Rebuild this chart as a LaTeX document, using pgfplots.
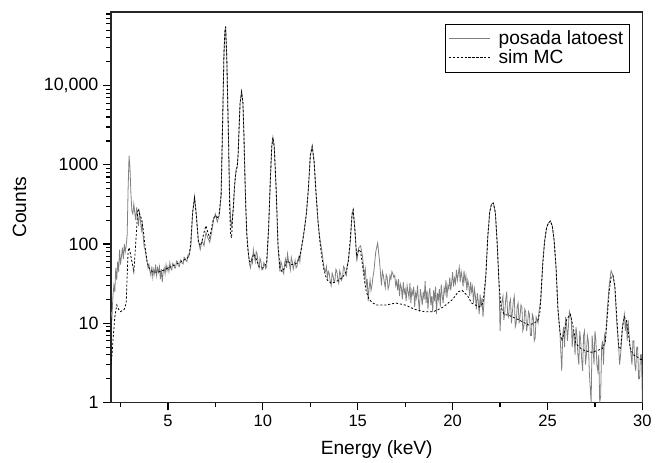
\documentclass[border=0pt]{standalone}
\usepackage{pgfplots}
\pgfplotsset{compat=1.18}
\usepackage{pgfplotstable}
\usepackage{fontspec}
\setmainfont{Liberation Sans}

% measured spectrum (posada latoest)
\pgfplotstableread{
x y
2.00 14
2.05 12
2.10 22
2.15 30
2.20 25
2.25 50
2.30 35
2.35 60
2.40 45
2.45 85
2.50 55
2.55 70
2.60 90
2.65 65
2.70 100
2.75 80
2.80 95
2.85 130
2.90 500
2.95 1300
3.00 900
3.05 420
3.10 260
3.15 240
3.20 320
3.25 250
3.30 200
3.35 290
3.40 220
3.45 170
3.50 260
3.55 200
3.60 150
3.65 180
3.70 120
3.75 90
3.80 85
3.85 70
3.90 60
3.95 50
4.00 55
4.05 45
4.10 40
4.15 52
4.20 38
4.25 48
4.30 42
4.35 55
4.40 40
4.45 50
4.50 44
4.55 52
4.60 36
4.65 48
4.70 33
4.75 45
4.80 50
4.85 42
4.90 55
4.95 46
5.00 52
5.05 45
5.10 58
5.15 49
5.20 47
5.25 57
5.30 55
5.35 50
5.40 50
5.45 61
5.50 60
5.55 53
5.60 52
5.65 63
5.70 62
5.75 57
5.80 56
5.85 68
5.90 66
5.95 62
6.00 60
6.05 72
6.10 70
6.20 90
6.30 250
6.40 400
6.50 230
6.60 110
6.70 85
6.80 110
6.90 95
7.00 140
7.10 120
7.20 105
7.30 140
7.40 200
7.50 240
7.60 190
7.70 230
7.80 400
7.85 1500
7.90 6000
7.95 25000
8.00 48000
8.04 56000
8.10 22000
8.15 6000
8.20 1600
8.25 400
8.30 200
8.35 170
8.40 220
8.45 300
8.50 500
8.55 700
8.60 900
8.65 950
8.70 1400
8.75 3000
8.80 6000
8.88 8400
8.95 6000
9.00 2500
9.05 800
9.10 300
9.15 140
9.20 100
9.25 70
9.30 55
9.35 50
9.40 65
9.45 58
9.50 85
9.55 70
9.60 60
9.65 80
9.70 75
9.75 55
9.80 50
9.85 66
9.90 60
9.95 47
10.00 48
10.05 58
10.10 55
10.15 49
10.20 52
10.30 150
10.40 700
10.47 1700
10.53 2240
10.60 1700
10.70 500
10.80 90
10.90 45
10.95 60
11.00 55
11.05 45
11.10 42
11.15 58
11.20 65
11.25 50
11.30 75
11.35 62
11.40 55
11.45 47
11.50 68
11.55 60
11.60 48
11.65 55
11.70 62
11.75 50
11.80 52
11.85 64
11.90 70
11.95 60
12.00 80
12.10 110
12.20 160
12.30 250
12.40 500
12.50 1300
12.60 1730
12.70 1100
12.80 450
12.90 200
13.00 120
13.10 85
13.20 55
13.25 46
13.30 45
13.35 52
13.40 38
13.45 45
13.50 42
13.55 34
13.60 30
13.65 43
13.70 40
13.75 33
13.80 35
13.85 48
13.90 45
13.95 36
14.00 32
14.05 46
14.10 42
14.15 35
14.20 38
14.25 52
14.30 50
14.35 42
14.40 40
14.45 55
14.50 60
14.60 100
14.70 230
14.76 270
14.85 150
14.95 60
15.05 90
15.15 95
15.25 70
15.35 40
15.40 48
15.45 30
15.50 36
15.55 19
15.60 28
15.65 35
15.70 26
15.75 30
15.80 38
15.85 45
15.95 80
16.05 103
16.15 60
16.20 42
16.25 30
16.30 45
16.35 40
16.40 33
16.45 28
16.50 41
16.55 38
16.60 27
16.65 30
16.70 40
16.75 36
16.80 45
16.85 42
16.90 38
16.95 40
17.00 30
17.05 34
17.10 26
17.15 36
17.20 22
17.25 31
17.30 28
17.35 20
17.40 33
17.45 24
17.50 27
17.55 19
17.60 30
17.65 25
17.70 21
17.75 32
17.80 18
17.85 26
17.90 23
17.95 29
18.00 16
18.05 24
18.10 21
18.15 30
18.20 19
18.25 14
18.30 27
18.35 22
18.40 17
18.45 25
18.50 20
18.55 34
18.60 18
18.65 26
18.70 15
18.75 23
18.80 28
18.85 17
18.90 22
18.95 14
19.00 26
19.05 19
19.10 29
19.15 13
19.20 24
19.25 20
19.30 27
19.35 16
19.40 31
19.45 22
19.50 18
19.55 28
19.60 24
19.65 35
19.70 21
19.75 30
19.80 27
19.85 38
19.90 26
19.95 33
20.00 44
20.05 29
20.10 37
20.15 32
20.20 47
20.25 35
20.30 42
20.35 51
20.40 33
20.45 45
20.50 38
20.55 29
20.60 46
20.65 34
20.70 40
20.75 26
20.80 35
20.85 30
20.90 22
20.95 33
21.00 25
21.05 29
21.10 18
21.15 27
21.20 22
21.25 15
21.30 24
21.35 19
21.40 13
21.45 23
21.50 16
21.55 21
21.60 12
21.65 18
21.75 40
21.85 120
21.95 250
22.05 320
22.15 325
22.25 250
22.35 100
22.45 30
22.50 8
22.55 15
22.60 19
22.65 22
22.70 11
22.75 14
22.80 20
22.85 25
22.90 13
22.95 12
23.00 18
23.05 20
23.10 10
23.15 14
23.20 19
23.25 22
23.30 9
23.35 10
23.40 16
23.45 18
23.50 10
23.55 12
23.60 17
23.65 16
23.70 8
23.75 9
23.80 15
23.85 14
23.90 8
23.95 10
24.00 14
24.05 13
24.10 7
24.15 7
24.20 13
24.25 12
24.30 6
24.35 6.5
24.40 12
24.45 11
24.50 10
24.55 14
24.65 20
24.75 60
24.85 110
24.95 160
25.05 185
25.15 195
25.25 170
25.35 110
25.45 50
25.55 15
25.65 8
25.75 2.5
25.80 7
25.85 9
25.90 5
25.95 12
26.00 10
26.05 6
26.10 9
26.15 14
26.20 12
26.25 12
26.30 5
26.35 8
26.40 7
26.45 4
26.50 9
26.55 7
26.60 4
26.65 3
26.70 8
26.75 6
26.80 3.5
26.85 2.5
26.90 7
26.95 8
27.00 3
27.05 4
27.10 7
27.15 6
27.20 2.5
27.25 1.5
27.30 1
27.35 7
27.40 5
27.45 3
27.50 8
27.55 6
27.60 3
27.65 2.5
27.70 4
27.75 1
27.80 1.2
27.85 5
27.90 6
27.95 3
28.00 7
28.05 6
28.15 15
28.25 30
28.35 46
28.45 40
28.55 28
28.65 10
28.75 5
28.80 3
28.85 4
28.95 9
29.05 13
29.10 8
29.15 11
29.20 6
29.25 11
29.30 7
29.35 5
29.40 4
29.45 3
29.50 6
29.55 6
29.60 3
29.65 2.5
29.70 5
29.75 5
29.80 2
29.85 2
29.90 4
29.95 4
30.00 1
}\measured

% Monte Carlo simulation (sim MC)
\pgfplotstableread{
x y
2.00 3
2.05 4
2.10 6
2.20 12
2.30 17
2.40 15
2.50 14
2.60 14.5
2.70 15
2.80 18
2.85 40
2.90 80
2.95 90
3.00 80
3.10 60
3.20 45
3.30 100
3.40 250
3.45 280
3.50 240
3.60 210
3.70 150
3.80 90
3.90 60
4.00 50
4.10 46
4.20 45
4.40 44
4.60 45
4.80 47
5.00 50
5.20 52
5.40 55
5.60 58
5.80 62
6.00 66
6.10 70
6.20 100
6.30 250
6.40 380
6.50 220
6.60 110
6.70 95
6.80 110
6.90 140
7.00 170
7.10 140
7.20 120
7.30 160
7.40 210
7.50 230
7.60 210
7.70 240
7.80 420
7.85 1500
7.90 6000
7.95 25000
8.00 48000
8.04 55000
8.10 22000
8.15 6000
8.20 1600
8.25 300
8.30 130
8.35 120
8.40 200
8.45 300
8.50 500
8.55 700
8.60 850
8.65 950
8.70 1400
8.75 3000
8.80 6000
8.88 8300
8.95 6000
9.00 2500
9.05 800
9.10 300
9.15 140
9.20 90
9.30 60
9.40 60
9.50 75
9.60 70
9.70 60
9.80 52
9.90 50
10.00 50
10.10 52
10.20 60
10.30 150
10.40 700
10.47 1700
10.53 2200
10.60 1700
10.70 500
10.80 100
10.90 50
11.00 45
11.10 48
11.20 55
11.30 62
11.40 58
11.50 55
11.60 55
11.70 56
11.80 58
11.90 65
12.00 80
12.10 110
12.20 160
12.30 250
12.40 500
12.50 1300
12.60 1700
12.70 1100
12.80 450
12.90 200
13.00 110
13.10 70
13.20 50
13.30 40
13.40 35
13.60 32
13.80 33
14.00 35
14.20 38
14.40 45
14.50 60
14.60 110
14.70 240
14.76 270
14.85 150
14.95 70
15.05 85
15.15 80
15.25 55
15.35 35
15.45 25
15.60 20
15.80 18
16.00 17
16.50 17
17.00 18
17.50 17
18.00 15
18.50 14
19.00 14
19.50 16
20.00 20
20.30 25
20.50 26
20.80 22
21.00 18
21.20 17
21.40 16
21.60 18
21.75 40
21.85 120
21.95 250
22.05 320
22.15 330
22.25 250
22.35 100
22.45 30
22.55 16
22.70 13
23.00 12.5
23.50 11
24.00 9.5
24.30 10
24.50 11
24.60 14
24.75 55
24.85 110
24.95 160
25.05 185
25.15 195
25.25 170
25.35 110
25.45 50
25.55 15
25.65 8
25.75 6
25.90 8
26.00 11
26.20 13
26.35 9
26.50 5.5
26.80 4.7
27.00 4.5
27.30 4.3
27.60 4.5
27.90 4.8
28.05 6
28.15 12
28.25 25
28.35 38
28.45 40
28.55 30
28.65 12
28.75 5
28.85 4.7
28.95 9
29.05 12
29.15 11
29.25 8
29.35 5
29.50 4
29.70 3.8
29.90 3.5
30.00 3.5
}\simulated

\begin{document}
\begin{tikzpicture}
\begin{axis}[
  scale only axis,
  width=402pt, height=295.5pt,
  ymode=log,
  xmin=2, xmax=30,
  ymin=1, ymax=85000,
  xtick={5,10,15,20,25,30},
  minor xtick={2.5,7.5,12.5,17.5,22.5,27.5},
  ytick={1,10,100,1000,10000},
  yticklabels={1,10,100,1000,{10,000}},
  minor ytick={2,3,4,5,6,7,8,9,20,30,40,50,60,70,80,90,
    200,300,400,500,600,700,800,900,2000,3000,4000,5000,6000,7000,8000,9000,
    20000,30000,40000,50000,60000,70000,80000},
  xtick pos=left, ytick pos=left,
  tick align=outside,
  major tick length=6pt, minor tick length=3.5pt,
  every tick/.style={black, line width=0.9pt},
  axis line style={line width=1.1pt, black!85},
  /pgf/number format/assume math mode=true,
  xticklabel style={font=\fontsize{12.5}{14}\selectfont},
  yticklabel style={font=\fontsize{13.5}{15}\selectfont},
  xlabel={Energy (keV)},
  ylabel={Counts},
  label style={font=\fontsize{14.5}{17}\selectfont},
  xlabel style={at={(axis description cs:0.5,-0.12)}, anchor=center},
  ylabel style={at={(axis description cs:-0.172,0.5)}, anchor=center},
  legend style={at={(0.976,0.97)}, anchor=north east,
    font=\fontsize{14.5}{13.5}\selectfont, draw=black, line width=0.6pt,
    inner xsep=2pt, inner ysep=3pt, row sep=-1.5pt,
    nodes={inner xsep=2.5pt}},
  legend cell align=left,
  legend image code/.code={\draw[#1] (0pt,0pt) -- (31pt,0pt); \path (35pt,0pt);},
]
\addplot[gray, line width=0.6pt] table {\measured};
\addlegendentry{posada latoest}
\addplot[black, line width=0.6pt, dash pattern=on 1.6pt off 1.4pt] table {\simulated};
\addlegendentry{sim MC}
\coordinate (sw) at (rel axis cs:0,0);
\coordinate (ne) at (rel axis cs:1,1);
\end{axis}
\path ([shift={(-84pt,-45.75pt)}]sw) rectangle ([shift={(6pt,9pt)}]ne);
\end{tikzpicture}
\end{document}
